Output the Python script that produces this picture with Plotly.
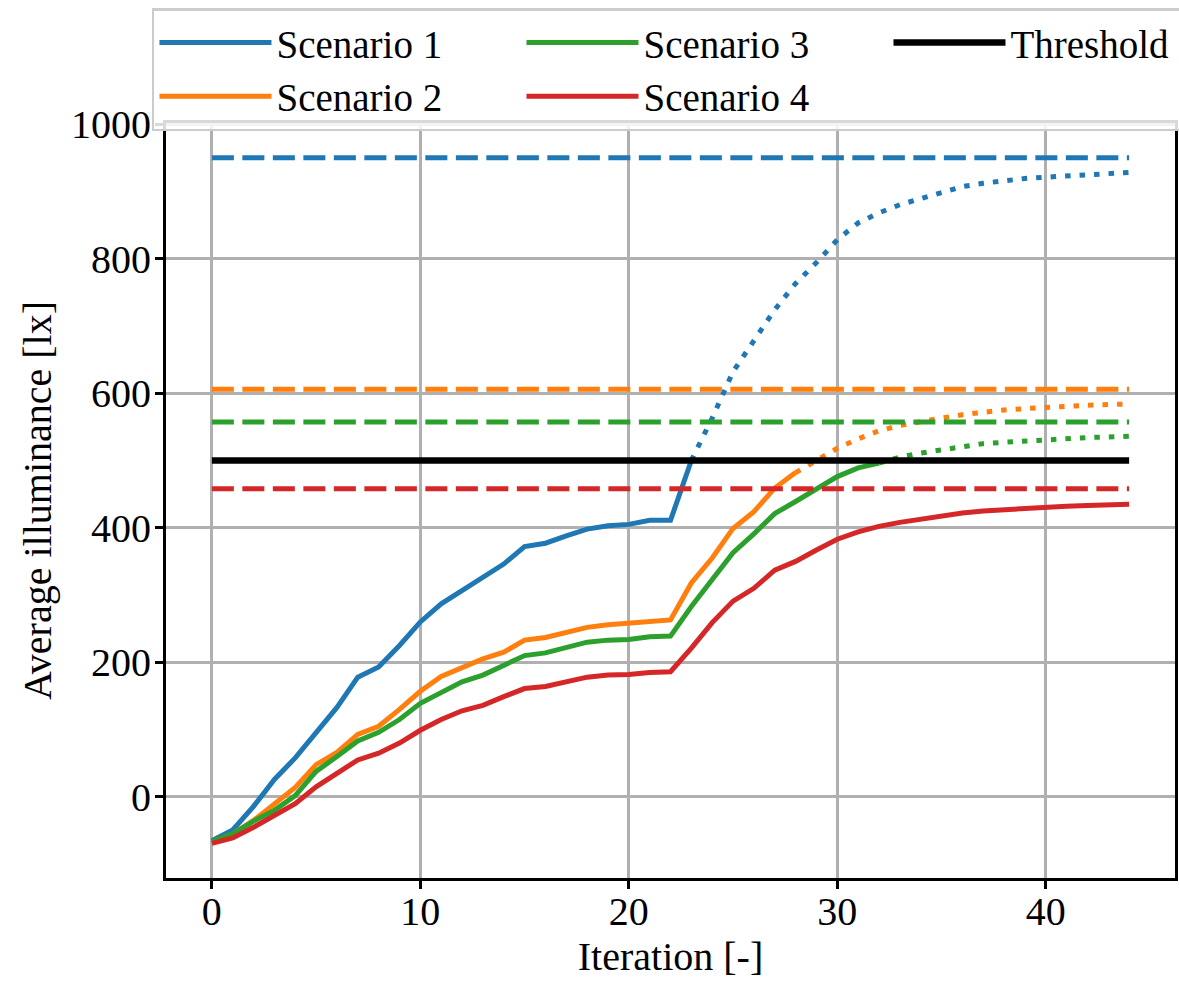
import plotly.graph_objects as go

iterations = list(range(45))

scenario_1 = [-65, -49, -14, 26, 58, 96, 133, 178, 193, 225, 260, 287, 307, 325, 346,
              372, 377, 388, 398, 403, 405, 411, 411, 500, 563, 632, 677, 724, 763, 794,
              828, 853, 868, 880, 889, 898, 907, 912, 916, 919, 921, 923, 925, 927, 928]
scenario_2 = [-67, -55, -35, -10, 14, 48, 66, 93, 105, 130, 157, 179, 193, 205, 215,
              233, 237, 245, 252, 256, 258, 261, 263, 318, 355, 399, 424, 459, 482, 500,
              518, 532, 544, 552, 558, 563, 568, 572, 575, 577, 579, 581, 582, 583, 584]
scenario_3 = [-66, -55, -36, -20, 2, 38, 60, 83, 96, 115, 139, 156, 171, 181, 195,
              210, 214, 222, 230, 233, 234, 238, 239, 283, 324, 363, 391, 421, 439, 458,
              476, 489, 496, 505, 511, 516, 521, 525, 527, 529, 531, 533, 534, 535, 536]
scenario_4 = [-69, -61, -45, -28, -10, 15, 35, 55, 65, 80, 99, 115, 128, 136, 149,
              161, 164, 171, 178, 181, 182, 185, 186, 221, 259, 291, 310, 337, 350, 367,
              383, 394, 402, 408, 413, 418, 422, 425, 427, 429, 431, 432, 433, 434, 435]

targets = [950, 606, 557, 458]
threshold = 500
solid_end = [23, 28, 32, 44]
names = ["Scenario 1", "Scenario 2", "Scenario 3", "Scenario 4"]
colors = ["#1f77b4", "#ff7f0e", "#2ca02c", "#d62728"]
ranks = [1, 4, 2, 5]

series = [scenario_1, scenario_2, scenario_3, scenario_4]
FONT = "Liberation Serif"
LW = 5

fig = go.Figure()
for k in range(4):
    e = solid_end[k]
    vals = series[k]
    fig.add_trace(go.Scatter(
        x=iterations[:e + 1], y=vals[:e + 1], mode="lines",
        line=dict(color=colors[k], width=LW), name=names[k], legendrank=ranks[k]))
    if e < len(iterations) - 1:
        fig.add_trace(go.Scatter(
            x=iterations[e:], y=vals[e:], mode="lines",
            line=dict(color=colors[k], width=LW, dash="5.5px,9px"), showlegend=False))
    fig.add_trace(go.Scatter(
        x=iterations, y=[targets[k]] * len(iterations), mode="lines",
        line=dict(color=colors[k], width=LW, dash="22px,8.5px"), showlegend=False))

fig.add_trace(go.Scatter(
    x=iterations, y=[threshold] * len(iterations), mode="lines",
    line=dict(color="black", width=6.5), name="Threshold", legendrank=3))

axis_common = dict(
    showgrid=True, gridcolor="#b0b0b0", gridwidth=2.5,
    ticks="outside", ticklen=8, tickwidth=3, tickcolor="black",
    showline=True, linewidth=3, linecolor="black", mirror=True,
    zeroline=False, automargin=False,
    tickfont=dict(family=FONT, size=40, color="black"),
)

fig.update_layout(
    width=1179, height=984,
    margin=dict(l=166, r=4, t=123, b=105.5, autoexpand=False),
    paper_bgcolor="white", plot_bgcolor="white",
    font=dict(family=FONT, size=40, color="black"),
    xaxis=dict(range=[-2.2, 46.2], tickvals=[0, 10, 20, 30, 40], ticklabelstandoff=-12,
               title=dict(text="Iteration [-]", font=dict(family=FONT, size=40), standoff=6),
               **axis_common),
    yaxis=dict(range=[-120.5, 1001.5], tickvals=[0, 200, 400, 600, 800, 1000], ticklabelstandoff=-4,
               title=dict(text="Average illuminance [lx]", font=dict(family=FONT, size=40), standoff=8),
               **axis_common),
    legend=dict(
        orientation="h", x=-0.0139, y=1.1522, xanchor="left", yanchor="top",
        bgcolor="rgba(255,255,255,0.85)", bordercolor="#cccccc", borderwidth=2.5,
        font=dict(family=FONT, size=39, color="black"),
        entrywidth=240, entrywidthmode="pixels", itemwidth=112,
        traceorder="normal",
    ),
    showlegend=True,
)

fig.write_html("out.html", config={"displayModeBar": False},
               post_script="document.body.style.margin='0px';")
